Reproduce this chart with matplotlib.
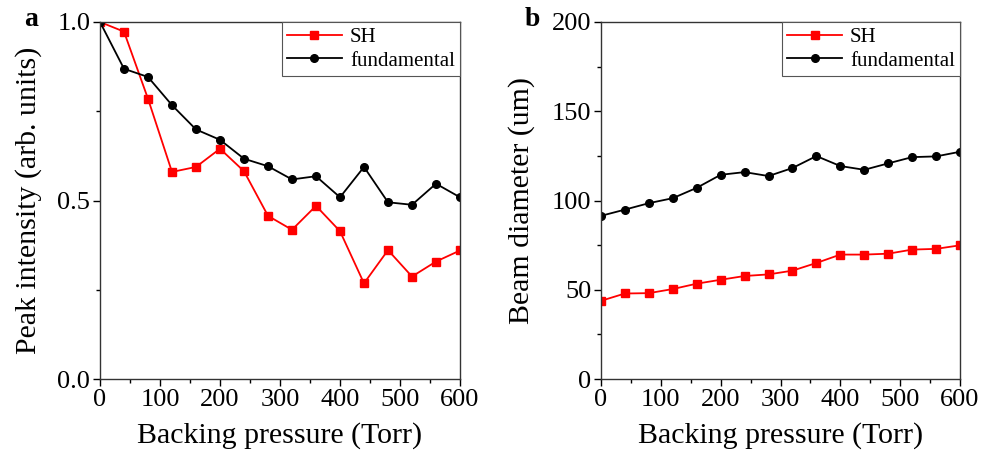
import numpy as np
import matplotlib
matplotlib.use('Agg')
import matplotlib.pyplot as plt
from matplotlib.ticker import MultipleLocator, FormatStrFormatter

# presión de respaldo (Torr)
pressure = [0, 40, 80, 120, 160, 200, 240, 280, 320, 360, 400, 440, 480, 520, 560, 600]

# panel a: intensidad de pico normalizada
sh_intensity = [1.0, 0.973, 0.785, 0.580, 0.594, 0.645, 0.582, 0.457, 0.418, 0.485,
                0.414, 0.268, 0.361, 0.287, 0.329, 0.360]
fund_intensity = [1.0, 0.869, 0.846, 0.767, 0.699, 0.670, 0.617, 0.596, 0.559, 0.568,
                  0.509, 0.594, 0.495, 0.488, 0.547, 0.509]

# panel b: diámetro del haz (um)
sh_diameter = [43.8, 47.9, 48.1, 50.4, 53.4, 55.6, 57.7, 58.6, 60.7, 65.0,
               69.7, 69.7, 70.2, 72.5, 72.9, 74.9]
fund_diameter = [91.4, 94.9, 98.5, 101.3, 107.1, 114.4, 115.9, 113.7, 118.2, 124.9,
                 119.3, 117.2, 120.8, 124.3, 124.7, 127.3]

plt.rcParams['font.family'] = ['Liberation Serif', 'DejaVu Serif']

fig = plt.figure(figsize=(9.93, 4.53), dpi=100)
ax1 = fig.add_axes([100/993, 1-379/453, 360/993, 357/453])
ax2 = fig.add_axes([601/993, 1-379/453, 359/993, 357/453])

def estilo(ax, ylim, major, minor):
    ax.set_xlim(0, 600)
    ax.set_ylim(*ylim)
    ax.xaxis.set_major_locator(MultipleLocator(100))
    ax.xaxis.set_minor_locator(MultipleLocator(50))
    ax.yaxis.set_major_locator(MultipleLocator(major))
    ax.yaxis.set_minor_locator(MultipleLocator(minor))
    ax.tick_params(which='both', direction='out', labelsize=19, width=1, pad=2)
    ax.tick_params(which='major', length=5)
    ax.tick_params(which='minor', length=3)
    ax.set_xlabel('Backing pressure (Torr)', fontsize=21.5)
    ax.xaxis.set_label_coords(0.5, -0.122)
    for s in ax.spines.values():
        s.set_linewidth(1)
        s.set_color('#333333')

ax1.plot(pressure, sh_intensity, color='red', marker='s', markersize=5.5, lw=1.3, label='SH')
ax1.plot(pressure, fund_intensity, color='black', marker='o', markersize=5.5, lw=1.3, label='fundamental')
estilo(ax1, (0, 1.0), 0.5, 0.25)
ax1.yaxis.set_major_formatter(FormatStrFormatter('%.1f'))
ax1.set_ylabel('Peak intensity (arb. units)', fontsize=21.5)
ax1.yaxis.set_label_coords(-0.161, 0.5)

ax2.plot(pressure, sh_diameter, color='red', marker='s', markersize=5.5, lw=1.3, label='SH')
ax2.plot(pressure, fund_diameter, color='black', marker='o', markersize=5.5, lw=1.3, label='fundamental')
estilo(ax2, (0, 200), 50, 25)
ax2.set_ylabel('Beam diameter (um)', fontsize=21.5)
ax2.yaxis.set_label_coords(-0.183, 0.5)

for ax in (ax1, ax2):
    leg = ax.legend(loc='upper right', fontsize=15, borderaxespad=0, fancybox=False,
                    framealpha=1, edgecolor='#555555', handlelength=2.6,
                    borderpad=0.25, labelspacing=0.2, handletextpad=0.4)
    leg.get_frame().set_linewidth(0.8)

fig.text(31/993, 1-19/453, 'a', fontsize=20, fontweight='bold', ha='center', va='center')
fig.text(532/993, 1-19/453, 'b', fontsize=20, fontweight='bold', ha='center', va='center')

fig.savefig('out.png', dpi=100)
